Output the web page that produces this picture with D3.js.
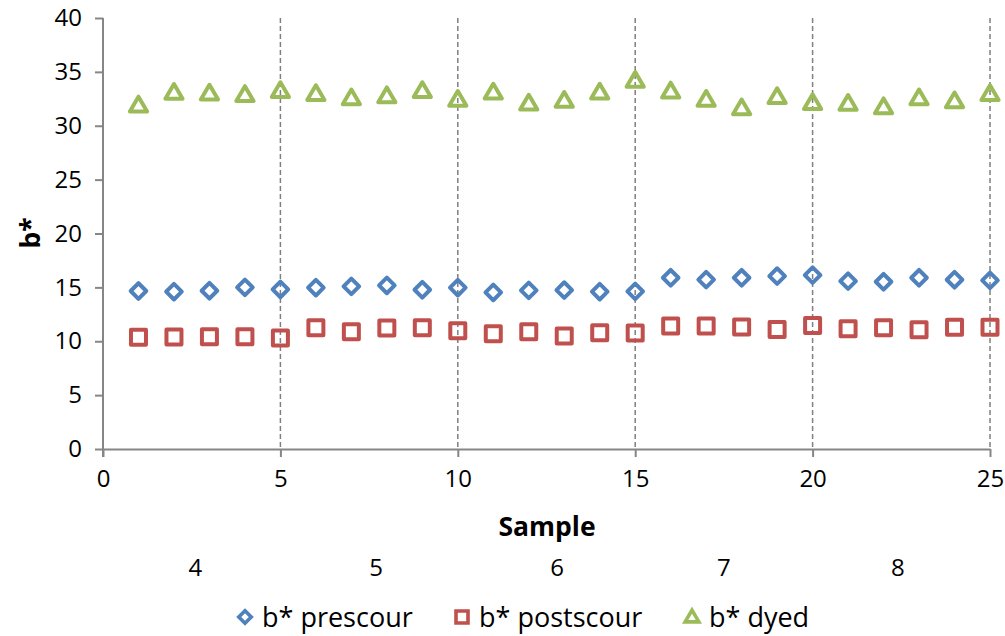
<!DOCTYPE html>
<html>
<head>
<meta charset="utf-8">
<script src="https://cdn.jsdelivr.net/npm/d3@7"></script>
<style>
  html, body { margin: 0; padding: 0; background: #fff; }
  svg { display: block; font-family: "Open Sans", "Liberation Sans", sans-serif; }
</style>
</head>
<body>
<div id="chart"></div>
<script>
// samples 1..25
const samples = d3.range(1, 26);
const prescour = [14.66, 14.60, 14.69, 15.00, 14.81, 14.97, 15.09, 15.18, 14.78, 14.97,
                  14.53, 14.72, 14.75, 14.60, 14.63, 15.89, 15.72, 15.89, 16.05, 16.14,
                  15.58, 15.52, 15.89, 15.71, 15.65];
const postscour = [10.36, 10.39, 10.42, 10.42, 10.30, 11.25, 10.88, 11.22, 11.25, 10.98,
                   10.70, 10.88, 10.48, 10.79, 10.76, 11.41, 11.41, 11.32, 11.10, 11.47,
                   11.16, 11.25, 11.07, 11.29, 11.29];
const dyed = [31.90, 33.07, 33.00, 32.87, 33.24, 32.96, 32.56, 32.76, 33.24, 32.42,
              33.10, 32.07, 32.33, 33.09, 34.18, 33.20, 32.42, 31.63, 32.68, 32.12,
              32.05, 31.74, 32.56, 32.28, 32.96];
const xTicks = [0, 5, 10, 15, 20, 25];
const yTicks = [0, 5, 10, 15, 20, 25, 30, 35, 40];
const gridX = [5, 10, 15, 20, 25];
// group labels under the axis title, centred at these sample positions
const groupLabels = ["4", "5", "6", "7", "8"];
const groupCenters = [2.6, 7.7, 12.8, 17.5, 22.4];
const seriesNames = ["b* prescour", "b* postscour", "b* dyed"];

const W = 1005, H = 636;
const x = d3.scaleLinear().domain([0, 25]).range([103, 990]);
const y = d3.scaleLinear().domain([0, 40]).range([449, 18]);

const svg = d3.select("#chart").append("svg")
    .attr("width", W).attr("height", H);

// marker shapes
const shapes = {
    diamond: r => `M0,${-r}L${r},0L0,${r}L${-r},0Z`,
    square: r => `M${-r},${-r}H${r}V${r}H${-r}Z`,
    triangle: r => `M0,${-r * 1.05}L${r * 1.05},${r * 0.75}L${-r * 1.05},${r * 0.75}Z`
};
const series = [
    { name: seriesNames[0], values: prescour, color: "#4F81BD", shape: "diamond", r: 7.8 },
    { name: seriesNames[1], values: postscour, color: "#C0504D", shape: "square", r: 7.5 },
    { name: seriesNames[2], values: dyed, color: "#9BBB59", shape: "triangle", r: 8.2 }
];

// dashed vertical gridlines
svg.append("g").selectAll("line")
    .data(gridX)
    .join("line")
    .attr("x1", d => x(d)).attr("x2", d => x(d))
    .attr("y1", y(40)).attr("y2", y(0))
    .attr("stroke", "#7f7f7f")
    .attr("stroke-width", 1.5)
    .attr("stroke-dasharray", "5,3");

// axes
const yAxis = svg.append("g")
    .attr("transform", `translate(${x(0)},0)`)
    .call(d3.axisLeft(y).tickValues(yTicks).tickSize(8).tickSizeOuter(0).tickPadding(13));
const xAxis = svg.append("g")
    .attr("transform", `translate(0,${y(0)})`)
    .call(d3.axisBottom(x).tickValues(xTicks).tickSize(8).tickSizeOuter(0).tickPadding(13));

[yAxis, xAxis].forEach(a => {
    a.selectAll("path, line").attr("stroke", "#868686").attr("stroke-width", 2);
    a.selectAll("text")
        .attr("fill", "#000")
        .style("font-size", "24px")
        .style("font-family", "'Open Sans', sans-serif");
});
yAxis.select(".domain").attr("d", `M0,${y(40)}V${y(0) + 8}`);

// markers
series.forEach(s => {
    svg.append("g").selectAll("path")
        .data(s.values)
        .join("path")
        .attr("transform", (d, i) => `translate(${x(samples[i])},${y(d)})`)
        .attr("d", shapes[s.shape](s.r))
        .attr("fill", "none")
        .attr("stroke", s.color)
        .attr("stroke-width", 4)
        .attr("stroke-linejoin", "round");
});

// axis titles
svg.append("text")
    .attr("x", 547).attr("y", 536)
    .attr("text-anchor", "middle")
    .style("font-size", "26.5px").style("font-weight", "bold")
    .text("Sample");
svg.append("text")
    .attr("transform", `translate(40,${233}) rotate(-90)`)
    .attr("text-anchor", "middle")
    .style("font-size", "26.5px").style("font-weight", "bold")
    .text("b*");

// group labels
svg.append("g").selectAll("text")
    .data(groupLabels)
    .join("text")
    .attr("x", (d, i) => x(groupCenters[i]))
    .attr("y", 576)
    .attr("text-anchor", "middle")
    .style("font-size", "24px")
    .text(d => d);

// legend
const legendX = [245, 462, 692];
const legend = svg.append("g").selectAll("g")
    .data(series)
    .join("g")
    .attr("transform", (d, i) => `translate(${legendX[i]},617)`);
legend.append("path")
    .attr("d", d => shapes[d.shape](d.r * 0.8))
    .attr("fill", "none")
    .attr("stroke", d => d.color)
    .attr("stroke-width", 3.6);
legend.append("text")
    .attr("x", 17).attr("y", 10)
    .style("font-size", "27px")
    .text(d => d.name);
</script>
</body>
</html>
